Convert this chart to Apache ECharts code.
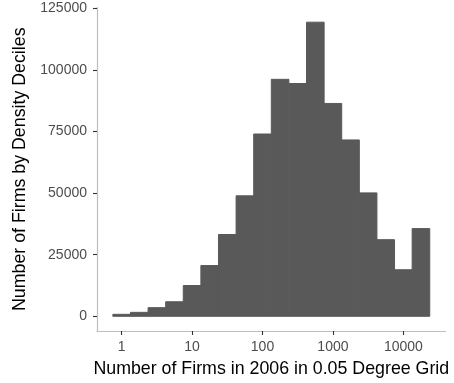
<!DOCTYPE html>
<html>
<head>
<meta charset="utf-8">
<script src="https://cdn.jsdelivr.net/npm/echarts@6/dist/echarts.min.js"></script>
<style>
html,body{margin:0;padding:0;background:#fff;}
#chart{width:454px;height:383px;}
</style>
</head>
<body>
<div id="chart"></div>
<script>
// Histogram bins: centres in log10 units (0.25-decade bins), firm counts
const binLogCenters = [0, 0.25, 0.5, 0.75, 1, 1.25, 1.5, 1.75, 2, 2.25, 2.5, 2.75, 3, 3.25, 3.5, 3.75, 4, 4.25];
const binWidth = 0.25;
const counts = [800, 1600, 3500, 5900, 12500, 20600, 33200, 48900, 74000, 96200, 94500, 119400, 86400, 71600, 50100, 31100, 18900, 35600];
const xTickPositions = [0, 1, 2, 3, 4];
const xTickLabels = ['1', '10', '100', '1000', '10000'];
const yTicks = [0, 25000, 50000, 75000, 100000, 125000];
const xTitle = 'Number of Firms in 2006 in 0.05 Degree Grid';
const yTitle = 'Number of Firms by Density Deciles';

const font = '"Liberation Sans", Arial, sans-serif';
const chart = echarts.init(document.getElementById('chart'), null, {renderer: 'canvas'});
const data = binLogCenters.map((c, i) => [c, counts[i]]);

chart.setOption({
  animation: false,
  backgroundColor: '#ffffff',
  grid: {left: 97, right: 8.4, top: 7.5, bottom: 49, containLabel: false},
  xAxis: {
    type: 'value',
    min: -0.35,
    max: 4.6,
    name: xTitle,
    nameLocation: 'middle',
    nameGap: 29,
    nameTextStyle: {color: '#000000', fontSize: 17.8, fontFamily: font},
    splitLine: {show: false},
    axisLine: {show: true, onZero: false, lineStyle: {color: '#bebebe', width: 1.2}},
    axisTick: {show: true, length: 4, customValues: xTickPositions, lineStyle: {color: '#333333', width: 1.1}},
    axisLabel: {
      customValues: xTickPositions,
      margin: 9,
      color: '#4d4d4d', fontSize: 14, fontFamily: font,
      formatter: function (v) { const i = xTickPositions.indexOf(v); return i >= 0 ? xTickLabels[i] : ''; }
    }
  },
  yAxis: {
    type: 'value',
    min: -5970,
    max: 125360,
    name: yTitle,
    nameLocation: 'middle',
    nameGap: 66,
    nameRotate: 90,
    nameTextStyle: {color: '#000000', fontSize: 17.8, fontFamily: font},
    splitLine: {show: false},
    axisLine: {show: true, onZero: false, lineStyle: {color: '#bebebe', width: 1.2}},
    axisTick: {show: true, length: 4, customValues: yTicks, lineStyle: {color: '#333333', width: 1.1}},
    axisLabel: {
      customValues: yTicks,
      margin: 10,
      color: '#4d4d4d', fontSize: 14, fontFamily: font,
      formatter: function (v) { return String(v); }
    }
  },
  series: [{
    type: 'custom',
    data: data,
    encode: {x: 0, y: 1},
    renderItem: function (params, api) {
      const c = api.value(0), v = api.value(1);
      const topLeft = api.coord([c - binWidth / 2, v]);
      const bottomRight = api.coord([c + binWidth / 2, 0]);
      return {
        type: 'rect',
        shape: {x: topLeft[0], y: topLeft[1], width: bottomRight[0] - topLeft[0], height: bottomRight[1] - topLeft[1]},
        style: {fill: '#595959', stroke: '#595959', lineWidth: 1}
      };
    }
  }]
});
</script>
</body>
</html>
